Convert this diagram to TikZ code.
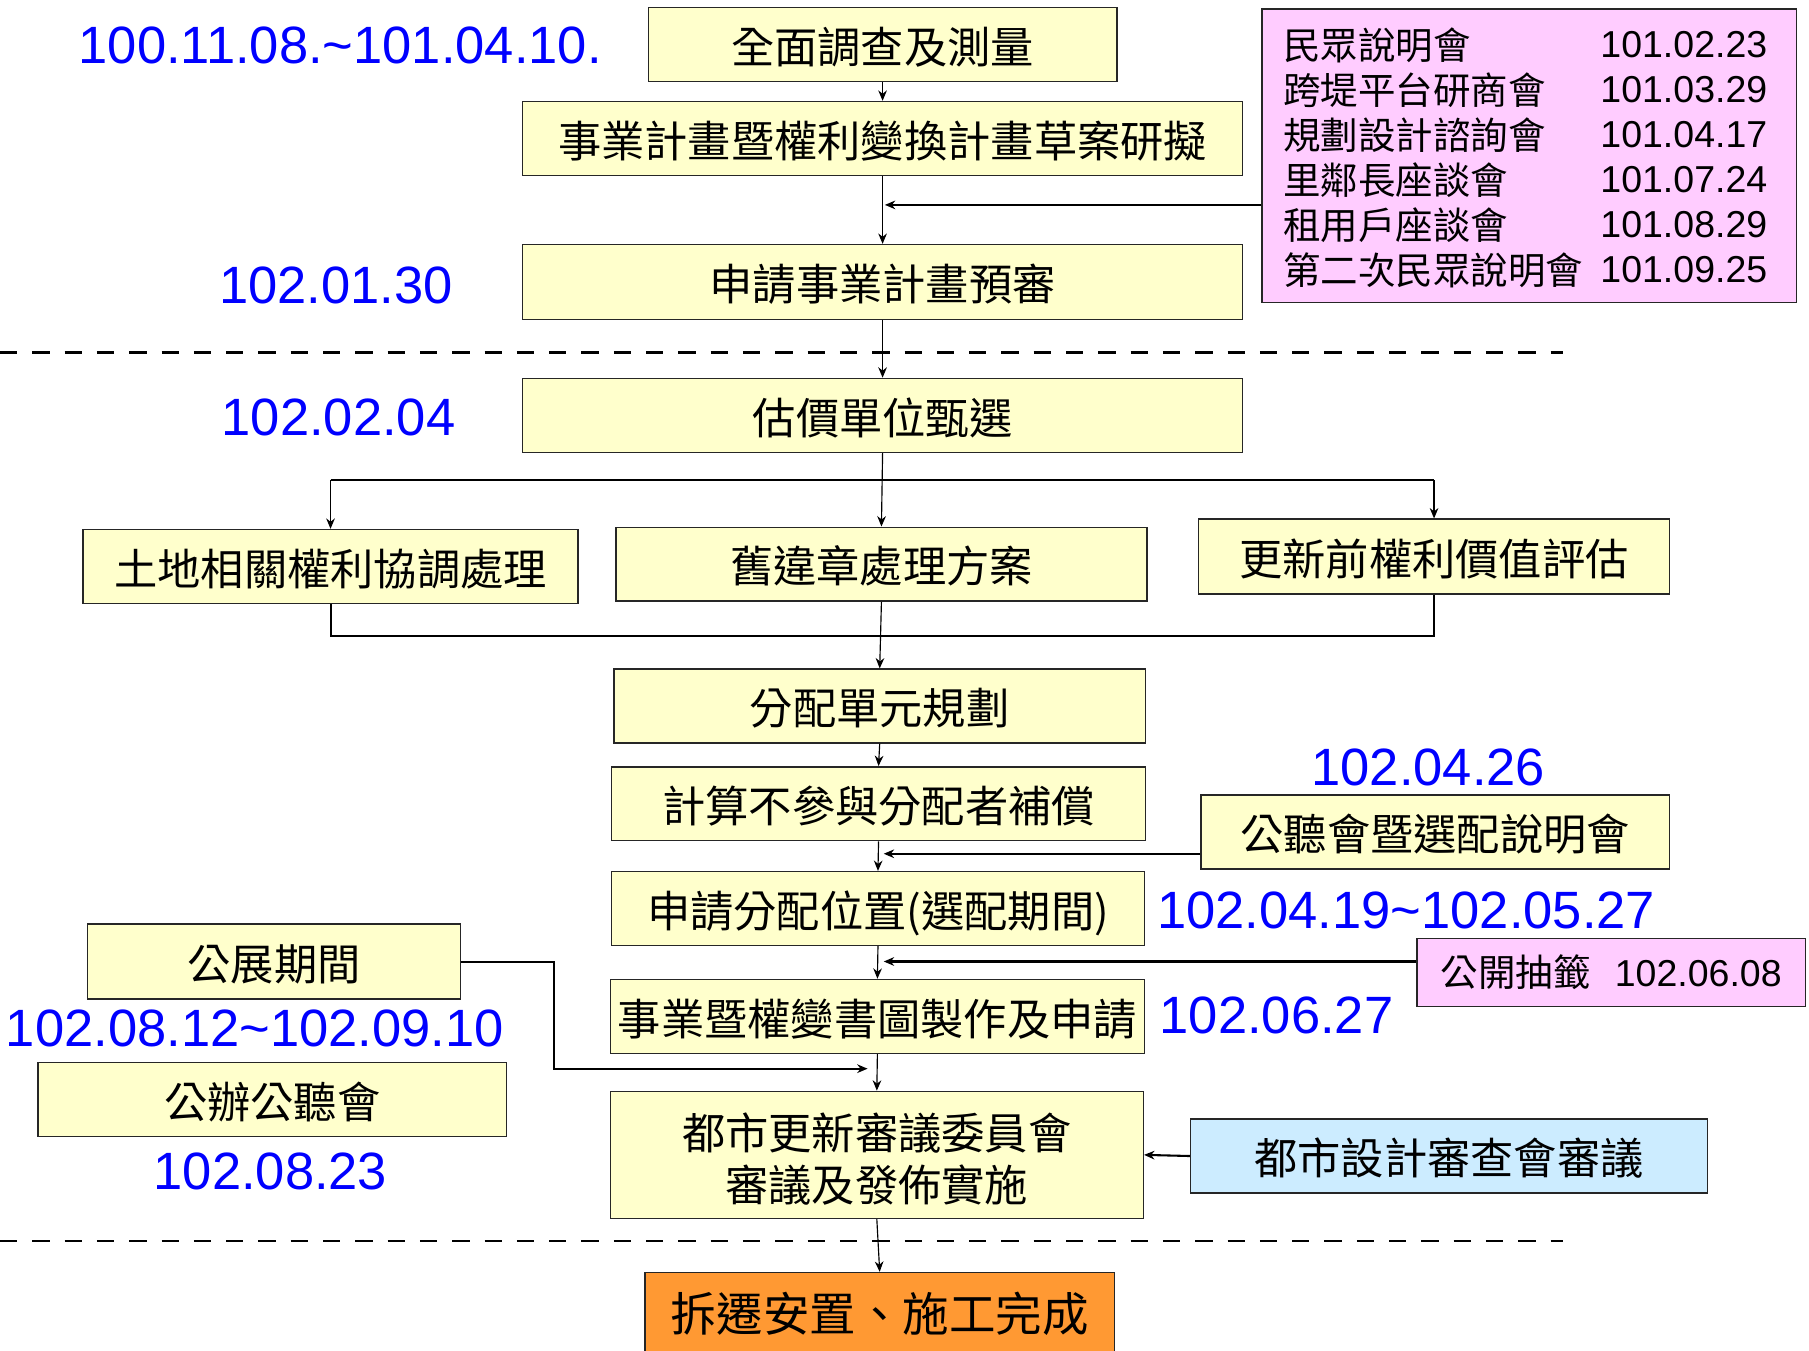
\documentclass[tikz,border=0pt]{standalone}
\usepackage{fontspec}
\setmainfont{Liberation Sans}
\newfontfamily\cjk{Noto Sans CJK TC}
\usetikzlibrary{arrows.meta,calc}
\definecolor{ylw}{HTML}{FFFFCC}
\definecolor{pnk}{HTML}{FFCCFF}
\definecolor{lblue}{HTML}{CCECFF}
\definecolor{orng}{HTML}{FF9933}
\definecolor{dateblue}{HTML}{0000FF}
\begin{document}
\begin{tikzpicture}[x=1pt,y=-1pt,
  basebox/.style={draw=black!85,line width=1.3pt,fill=ylw,inner sep=0pt,minimum height=64pt,
    font=\cjk\fontsize{37.5}{45}\selectfont,align=center},
  box/.style={basebox,text height=33pt,text depth=0.5pt},
  conn/.style={line width=1pt,-{Stealth[length=9pt,width=7.5pt]}},
  feed/.style={line width=1.8pt,-{Stealth[length=9pt,width=7.5pt]}},
  heavy/.style={line width=1.8pt},
  date/.style={text=dateblue,font=\fontsize{45.5}{50}\selectfont,inner sep=0pt},
  pkt/.style={font=\cjk\fontsize{32.5}{36}\selectfont,inner sep=0pt,anchor=west},
  pkd/.style={font=\fontsize{32.5}{36}\selectfont,inner sep=0pt,anchor=east},
  sepline/.style={line width=2.2pt,dash pattern=on 15pt off 13pt}]
\useasboundingbox (0,0) rectangle (1568,1171);
\clip (0,0) rectangle (1568,1171);

% main chain
\node[box,minimum width=406pt] (b1) at (765,38.5) {全面調查及測量};
\node[box,minimum width=624pt] (b2) at (765,120) {事業計畫暨權利變換計畫草案研擬};
\node[box,minimum width=624pt,minimum height=65pt] (b3) at (765,244.5) {申請事業計畫預審};
\node[box,minimum width=624pt] (b4) at (765,360) {估價單位甄選};
\node[box,minimum width=429pt] (b5a) at (286.5,491) {土地相關權利協調處理};
\node[box,minimum width=460pt] (b5b) at (764,489) {舊違章處理方案};
\node[box,minimum width=408pt,minimum height=65pt] (b5c) at (1243,482.5) {更新前權利價值評估};
\node[box,minimum width=461pt] (b6) at (762.5,612) {分配單元規劃};
\node[box,minimum width=463pt] (b7) at (761.5,696.6) {計算不參與分配者補償};
\node[box,minimum width=406pt] (b8) at (1244,721) {公聽會暨選配說明會};
\node[box,minimum width=462pt] (b9) at (761,787.5) {申請分配位置(選配期間)};
\node[box,minimum width=323pt,minimum height=65pt] (b10) at (237.5,833.5) {公展期間};
\node[box,minimum width=406pt] (b11) at (236,953) {公辦公聽會};
\node[box,minimum width=463pt] (b12) at (760.5,881) {事業暨權變書圖製作及申請};
\node[basebox,minimum width=462pt,minimum height=110pt] (b13) at (760,1001) {\raisebox{-8.5pt}[\height][\depth]{\begin{tabular}{@{}c@{}}都市更新審議委員會\\[0pt]審議及發佈實施\end{tabular}}};
\node[box,fill=lblue,minimum width=448pt,minimum height=64.5pt] (b14) at (1256,1002) {都市設計審查會審議};
\node[basebox,fill=orng,minimum width=407pt,minimum height=72pt,font=\cjk\fontsize{40.3}{48}\selectfont] (b15) at (762.5,1139) {拆遷安置、施工完成};

% pink boxes
\node[draw=black!85,line width=1.3pt,fill=pnk,minimum width=463pt,minimum height=254pt,inner sep=0pt] (pk) at (1325.5,135) {};
\foreach \i/\t/\d in {1/民眾說明會/101.02.23,2/跨堤平台研商會/101.03.29,3/規劃設計諮詢會/101.04.17,
  4/里鄰長座談會/101.07.24,5/租用戶座談會/101.08.29,6/第二次民眾說明會/101.09.25}{
  \node[pkt] (pl\i) at (1112,39*\i) {\t};
  \node[pkd] (pd\i) at (1532,39*\i) {\d};
}
\node[draw=black!85,line width=1.3pt,fill=pnk,minimum width=337pt,minimum height=59pt,inner sep=0pt,
  font=\fontsize{32.5}{36}\selectfont] (pk2) at (1396.5,843) {{\cjk 公開抽籤}\hspace{21pt}102.06.08};

% dates
\node[date,anchor=west] (d1) at (68,39) {100.11.08.\textasciitilde101.04.10.};
\node[date,anchor=west] (d2) at (190,247) {102.01.30};
\node[date,anchor=west] (d3) at (192,362) {102.02.04};
\node[date] (d4) at (1238,665) {102.04.26};
\node[date,anchor=west] (d5) at (1003,789) {102.04.19\textasciitilde102.05.27};
\node[date,anchor=west] (d6) at (5,891) {102.08.12\textasciitilde102.09.10};
\node[date,anchor=west] (d7) at (133,1015.5) {102.08.23};
\node[date,anchor=west] (d8) at (1005,880) {102.06.27};

% separators
\draw[sepline] (0,305.6) -- (1355,305.6);
\draw[sepline] (0,1075.8) -- (1355,1075.8);

% connectors
\coordinate (t1) at (767,177.6);
\coordinate (t2) at (766,740);
\coordinate (t3) at (766,833.4);
\coordinate (t4) at (752,926.3);
\coordinate (brL) at (286.5,416);
\coordinate (brR) at (1243,416);
\coordinate (mgL) at (286.5,551.6);
\coordinate (mgR) at (1243,551.6);
\coordinate (k1) at (480,833.5);
\coordinate (k2) at (480,926.3);

\draw[conn] (b1.south) -- (b2.north);
\draw[conn] (b2.south) -- (b3.north);
\draw[feed] ($(pk.west)+(0,42.6)$) -- (t1);
\draw[conn] (b3.south) -- (b4.north);
\draw[conn] (b4.south) -- (b5b.north);
\draw[heavy] (brL) -- (brR);
\draw[conn] (brL) -- (b5a.north);
\draw[conn] (brR) -- (b5c.north);
\draw[heavy] (b5a.south) -- (mgL) -- (mgR) -- (b5c.south);
\draw[conn] (b5b.south) -- (b6.north);
\draw[conn] (b6.south) -- (b7.north);
\draw[conn] (b7.south) -- (b9.north);
\draw[feed] ($(b8.west)+(0,19)$) -- (t2);
\draw[conn] (b9.south) -- (b12.north);
\draw[feed] ($(pk2.west)+(0,-9.6)$) -- (t3);
\draw[conn] (b12.south) -- (b13.north);
\draw[feed] (b10.east) -- (k1) -- (k2) -- (t4);
\draw[feed] (b14.west) -- (b13.east);
\draw[conn] (b13.south) -- (b15.north);
\end{tikzpicture}
\end{document}
